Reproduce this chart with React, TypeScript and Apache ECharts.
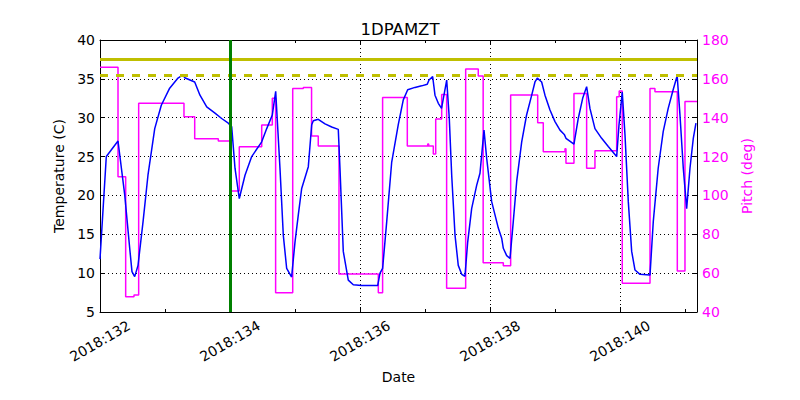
import React, { useEffect, useRef } from "react";
import * as echarts from "echarts";

const titleText = "1DPAMZT";
const xLabelPrefix = "2018:";
const xMin = 132;
const xMax = 141.185;

const tempDays = [
  132.0, 132.097, 132.277, 132.38, 132.457, 132.492, 132.534, 132.585, 132.662, 132.738,
  132.842, 132.943, 133.072, 133.2, 133.277, 133.303, 133.457, 133.538, 133.642, 133.769,
  133.872, 133.974, 134.026, 134.077, 134.143, 134.231, 134.334, 134.488, 134.565, 134.651,
  134.703, 134.769, 134.82, 134.872, 134.948, 135.0, 135.051, 135.103, 135.205, 135.257,
  135.282, 135.358, 135.462, 135.565, 135.666, 135.692, 135.743, 135.82, 135.897, 136.026,
  136.272, 136.308, 136.348, 136.411, 136.488, 136.589, 136.666, 136.734, 136.846, 136.949,
  137.035, 137.062, 137.118, 137.154, 137.205, 137.255, 137.334, 137.374, 137.411, 137.462,
  137.512, 137.565, 137.615, 137.657, 137.718, 137.795, 137.846, 137.908, 137.949, 138.026,
  138.128, 138.18, 138.205, 138.257, 138.308, 138.358, 138.411, 138.488, 138.563, 138.642,
  138.692, 138.728, 138.795, 138.846, 138.923, 139.0, 139.077, 139.143, 139.169, 139.292,
  139.358, 139.426, 139.487, 139.538, 139.615, 139.718, 139.82, 139.949, 139.985, 140.035,
  140.077, 140.128, 140.18, 140.231, 140.308, 140.462, 140.512, 140.588, 140.665, 140.742,
  140.818, 140.88, 140.923, 140.974, 141.026, 141.077, 141.128, 141.169
];
const tempValues = [
  11.8, 25.0, 27.0, 20.1, 13.2, 10.2, 9.55, 11.0, 16.6, 22.6,
  28.6, 31.6, 33.8, 35.1, 35.5, 35.15, 34.6, 32.9, 31.4, 30.6,
  29.9, 29.3, 28.85, 23.5, 19.6, 22.6, 25.0, 26.9, 28.6, 30.35,
  33.4, 23.5, 14.9, 10.6, 9.5, 14.0, 17.5, 20.9, 23.7, 29.1,
  29.6, 29.8, 29.2, 28.8, 28.5, 23.5, 12.8, 9.1, 8.5, 8.4,
  8.4, 10.0, 10.6, 16.6, 24.3, 29.1, 32.3, 33.6, 33.9, 34.1,
  34.3, 34.85, 35.3, 32.9, 31.85, 31.2, 34.85, 29.9, 22.6, 14.9,
  11.0, 9.85, 9.6, 14.0, 18.3, 21.3, 22.85, 28.4, 24.8, 19.2,
  15.8, 14.5, 13.2, 12.25, 11.9, 16.6, 21.8, 26.9, 30.35, 32.9,
  34.6, 35.1, 34.6, 32.9, 31.0, 29.5, 28.4, 27.85, 27.35, 26.6,
  29.9, 32.5, 34.0, 31.2, 28.6, 27.35, 26.3, 25.0, 29.1, 33.3,
  27.8, 19.2, 12.8, 10.4, 9.85, 9.75, 16.6, 23.5, 28.2, 31.2,
  33.6, 35.4, 30.35, 23.5, 18.3, 23.5, 27.35, 29.3
];

const pitchDays = [
  132.0, 132.277, 132.395, 132.523, 132.595, 133.292, 133.457, 133.82, 134.0, 134.143,
  134.488, 134.651, 134.702, 134.965, 135.128, 135.255, 135.358, 135.677, 136.282, 136.348,
  136.728, 137.042, 137.057, 137.128, 137.165, 137.257, 137.333, 137.626, 137.82, 137.895,
  138.205, 138.318, 138.734, 138.82, 139.154, 139.169, 139.292, 139.487, 139.615, 139.949,
  139.988, 140.035, 140.462, 140.538, 140.882, 141.0, 141.185
];
const pitchValues = [
  166.0, 109.6, 47.9, 48.8, 147.4, 140.5, 129.2, 128.0, 102.3, 125.1,
  136.3, 150.0, 49.95, 155.0, 155.6, 130.6, 125.4, 59.6, 49.95, 150.4,
  125.4, 126.5, 125.4, 121.3, 139.3, 152.0, 52.2, 165.1, 161.5, 65.4,
  63.8, 151.7, 137.4, 122.5, 124.0, 116.5, 152.4, 114.0, 123.0, 150.8,
  153.8, 54.8, 155.1, 153.4, 61.1, 148.3, 148.3
];

const limitSolid = 37.5;
const limitDashed = 35.5;
const markerDay = 134;

const FONT = "DejaVu Sans";

export default function App() {
  const ref = useRef<HTMLDivElement>(null);
  useEffect(() => {
    document.body.style.margin = "0";
    const chart = echarts.init(ref.current!, null, { renderer: "svg" });
    const baseX = {
      type: "value" as const,
      min: xMin,
      max: xMax,
      axisLabel: { show: false },
      splitLine: { show: false },
      axisLine: { show: false },
    };
    const gridDotted = { show: true, lineStyle: { color: "#000", type: [1, 3], width: 1 } };
    chart.setOption({
      animation: false,
      backgroundColor: "#fff",
      title: {
        text: titleText,
        left: "center",
        top: 16,
        textStyle: { fontFamily: FONT, fontSize: 16.5, fontWeight: "normal", color: "#000" },
      },
      grid: { left: 100, right: 103, top: 40, bottom: 88 },
      xAxis: [
        {
          ...baseX,
          position: "bottom",
          interval: 2,
          name: "Date",
          nameLocation: "middle",
          nameGap: 51,
          nameTextStyle: { fontFamily: FONT, fontSize: 14, color: "#000" },
          axisLine: { show: true, lineStyle: { color: "#000", width: 1 } },
          axisTick: { show: true, inside: true, length: 5, lineStyle: { color: "#000" } },
          axisLabel: {
            show: true,
            rotate: 30,
            align: "center",
            verticalAlign: "middle",
            margin: 29,
            showMaxLabel: false,
            fontFamily: FONT,
            fontSize: 14,
            color: "#000",
            formatter: (v: number) => xLabelPrefix + v,
          },
          splitLine: gridDotted,
        },
        {
          ...baseX,
          position: "bottom",
          interval: 1,
          axisTick: { show: true, inside: true, length: 3, lineStyle: { color: "#000" } },
        },
        {
          ...baseX,
          position: "top",
          interval: 2,
          axisLine: { show: true, lineStyle: { color: "#000", width: 1 } },
          axisTick: { show: true, inside: true, length: 5, lineStyle: { color: "#000" } },
        },
        {
          ...baseX,
          position: "top",
          interval: 1,
          axisTick: { show: true, inside: true, length: 3, lineStyle: { color: "#000" } },
        },
      ],
      yAxis: [
        {
          type: "value",
          position: "left",
          min: 5,
          max: 40,
          interval: 5,
          name: "Temperature (C)",
          nameLocation: "middle",
          nameGap: 27,
          nameTextStyle: { fontFamily: FONT, fontSize: 14, color: "#000" },
          axisLine: { show: true, lineStyle: { color: "#000", width: 1 } },
          axisTick: { show: true, inside: true, length: 5, lineStyle: { color: "#000" } },
          axisLabel: { fontFamily: FONT, fontSize: 14, color: "#000", margin: 5 },
          splitLine: gridDotted,
        },
        {
          type: "value",
          position: "right",
          min: 40,
          max: 180,
          interval: 20,
          name: "Pitch (deg)",
          nameLocation: "middle",
          nameGap: 29,
          nameRotate: 90,
          nameTextStyle: { fontFamily: FONT, fontSize: 14, color: "#ff00ff" },
          axisLine: { show: true, lineStyle: { color: "#000", width: 1 } },
          axisTick: { show: true, inside: true, length: 5, lineStyle: { color: "#000" } },
          axisLabel: { fontFamily: FONT, fontSize: 14, color: "#ff00ff", margin: 5 },
          splitLine: { show: false },
        },
      ],
      series: [
        {
          type: "line",
          name: "Temperature",
          xAxisIndex: 0,
          yAxisIndex: 0,
          data: tempDays.map((d, i) => [d, tempValues[i]]),
          symbol: "none",
          lineStyle: { color: "#0000ff", width: 1.5 },
          z: 3,
          markLine: {
            silent: true,
            symbol: "none",
            label: { show: false },
            animation: false,
            data: [
              { yAxis: limitSolid, lineStyle: { color: "#bfbf00", width: 3, type: "solid" } },
              { yAxis: limitDashed, lineStyle: { color: "#bfbf00", width: 3, type: [8, 8] } },
              { xAxis: markerDay, lineStyle: { color: "#008000", width: 3, type: "solid" } },
            ],
          },
        },
        {
          type: "line",
          name: "Pitch",
          xAxisIndex: 0,
          yAxisIndex: 1,
          step: "end",
          data: pitchDays.map((d, i) => [d, pitchValues[i]]),
          symbol: "none",
          lineStyle: { color: "#ff00ff", width: 1.5 },
          z: 2,
        },
      ],
    });
    return () => chart.dispose();
  }, []);
  return <div ref={ref} style={{ width: 800, height: 400 }} />;
}
